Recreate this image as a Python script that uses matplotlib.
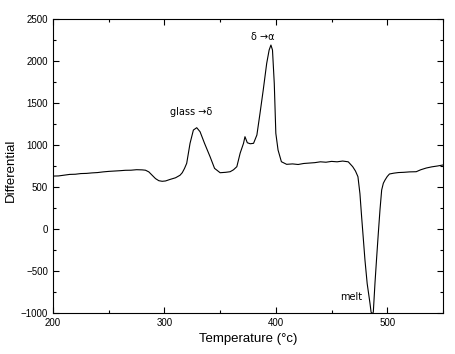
import matplotlib
matplotlib.use("Agg")
import matplotlib.pyplot as plt
from matplotlib.ticker import MultipleLocator

plt.rcParams['font.family'] = ['Liberation Sans', 'DejaVu Sans']

# DSC trace (temperature, differential)
temp = [200, 205, 210, 215, 220, 225, 230, 235, 240, 245,
        250, 255, 260, 265, 270, 275, 280, 283, 286, 289,
        292, 295, 298, 301, 305, 310, 314, 316, 318, 320,
        323, 326, 329, 332, 336, 341, 345, 350, 355, 359,
        362, 365, 368, 371, 372.3, 374.4, 377, 380, 383, 385.8,
        388.7, 391.8, 394, 395.6, 397, 398.6, 400, 402, 405, 409.7,
        415, 420, 425, 430, 435, 440, 445, 450, 455, 460,
        465, 469, 471.5, 473.7, 475.5, 477, 478.5, 480, 482, 484.5,
        485.5, 486.5, 487.5, 489, 490.5, 492, 493.5, 495, 496.5, 498,
        500, 502, 506, 510, 515, 520, 526, 530, 535, 540,
        545, 550]
diff = [630, 632, 641, 650, 652, 660, 662, 668, 672, 680,
        686, 690, 694, 699, 700, 706, 704, 700, 680, 640,
        600, 575, 568, 572, 590, 610, 640, 670, 720, 782,
        1020, 1178, 1206, 1158, 1020, 860, 722, 670, 675, 682,
        705, 742, 904, 1020, 1099, 1027, 1015, 1020, 1119, 1377,
        1655, 1972, 2131, 2190, 2131, 1734, 1139, 940, 801, 770,
        775, 768, 780, 785, 790, 800, 795, 805, 800, 809,
        800, 742, 690, 623, 420, 147, -110, -369, -650, -883,
        -990, -1010, -990, -643, -340, -48, 230, 464, 545, 583,
        625, 655, 665, 672, 675, 680, 682, 705, 726, 740,
        750, 762]

labels = ["glass \u2192\u03b4", "\u03b4 \u2192\u03b1", "melt"]
label_x = [324, 388, 468]
label_y = [1393, 2285, -806]

fig = plt.figure(figsize=(4.55, 3.54), dpi=100)
ax = fig.add_axes([0.1165, 0.1158, 0.857, 0.8305])

ax.plot(temp, diff, color='black', linewidth=0.8)

for t, x, y in zip(labels, label_x, label_y):
    ax.text(x, y, t, fontsize=7, ha='center', va='center',
            family=['DejaVu Sans'])

ax.set_xlim(200, 550)
ax.set_ylim(-1000, 2500)
ax.xaxis.set_major_locator(MultipleLocator(100))
ax.xaxis.set_minor_locator(MultipleLocator(50))
ax.yaxis.set_major_locator(MultipleLocator(500))
ax.yaxis.set_minor_locator(MultipleLocator(250))
ax.tick_params(which='both', direction='in', top=True, right=True,
               labelsize=7, width=0.8)
ax.tick_params(which='major', length=4)
ax.tick_params(which='minor', length=2.5)
for s in ax.spines.values():
    s.set_linewidth(0.8)

ax.set_xlabel("Temperature (\u00b0c)", fontsize=9.5, labelpad=4)
fig.text(0.024, 0.52, "Differential", fontsize=9.5, rotation=90,
         ha='center', va='center')

fig.savefig("out.png", dpi=100)
